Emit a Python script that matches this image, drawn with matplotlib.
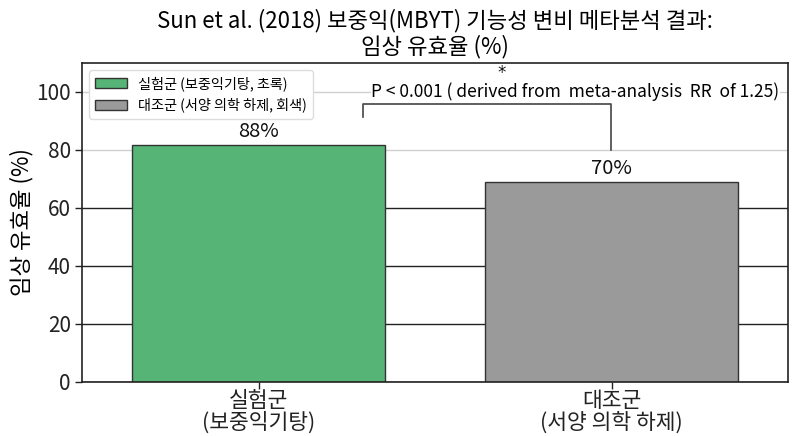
import matplotlib
matplotlib.use("Agg")
import matplotlib.pyplot as plt
from matplotlib.patches import Patch

plt.rcParams['font.family'] = ['Noto Sans CJK KR', 'DejaVu Sans']

categories = ["실험군\n(보중익기탕)", "대조군\n(서양 의학 하제)"]
values = [81.8, 69.0]
value_labels = ["88%", "70%"]
legend_labels = ["실험군 (보중익기탕, 초록)", "대조군 (서양 의학 하제, 회색)"]
colors = ["#55b476", "#9a9a9a"]
yticks = [0, 20, 40, 60, 80, 100]
title = "Sun et al. (2018) 보중익(MBYT) 기능성 변비 메타분석 결과:\n임상 유효율 (%)"
ylabel = "임상 유효율 (%)"
p_text = "P < 0.001 ( derived from  meta-analysis  RR  of 1.25)"

fig = plt.figure(figsize=(8, 4.36), dpi=100)
ax = fig.add_axes([0.1025, 0.1245, 0.8825, 0.731])

x = list(range(len(categories)))
bars = ax.bar(x, values, width=0.715, color=colors, edgecolor="#333333",
              linewidth=1.0, zorder=2)

for b, lab in zip(bars, value_labels):
    ax.text(b.get_x() + b.get_width() / 2, b.get_height() + 0.8, lab,
            ha="center", va="bottom", fontsize=14.5, color="#111111")

ax.set_xlim(-0.5, 1.5)
ax.set_ylim(0, 110)
ax.set_yticks(yticks)
ax.set_xticks(x)
ax.set_xticklabels(categories, fontsize=15.5, linespacing=1.0)
ax.tick_params(axis="y", labelsize=15, length=5, width=1, colors="#222222", pad=3)
ax.tick_params(axis="x", length=5, width=1, colors="#222222", pad=1)

ax.yaxis.grid(True, zorder=0)
ax.set_axisbelow(True)
for val, gl in zip(yticks, ax.get_ygridlines()):
    if val >= 80:
        gl.set_color("#d0d0d0")
    else:
        gl.set_color("#222222")
    gl.set_linewidth(1.0)

for s in ax.spines.values():
    s.set_color("#222222")
    s.set_linewidth(1.2)

ax.set_ylabel(ylabel, fontsize=16, labelpad=2)
ax.set_title(title, fontsize=16, linespacing=1.1, pad=7)

# significance bracket
bx0, bx1 = 0.295, 0.998
ax.plot([bx0, bx0, bx1, bx1], [91.2, 95.8, 95.8, 80.0], color="#444444",
        linewidth=1.2, zorder=3)
ax.text(0.69, 103.4, "*", ha="center", va="bottom", fontsize=12,
        family="DejaVu Sans", color="#111111")
ax.text(0.898, 100.0, p_text, ha="center", va="center", fontsize=12.5,
        bbox=dict(facecolor="white", edgecolor="none", pad=0.0))

handles = [Patch(facecolor=c, edgecolor="#333333", linewidth=1.0) for c in colors]
ax.legend(handles, legend_labels, loc="upper left", fontsize=10.2,
          frameon=True, framealpha=1.0, edgecolor="#dddddd",
          borderpad=0.45, handlelength=2.2, handletextpad=0.8,
          labelspacing=0.45, bbox_to_anchor=(0.0, 1.0))

fig.savefig("out.png", dpi=100)
